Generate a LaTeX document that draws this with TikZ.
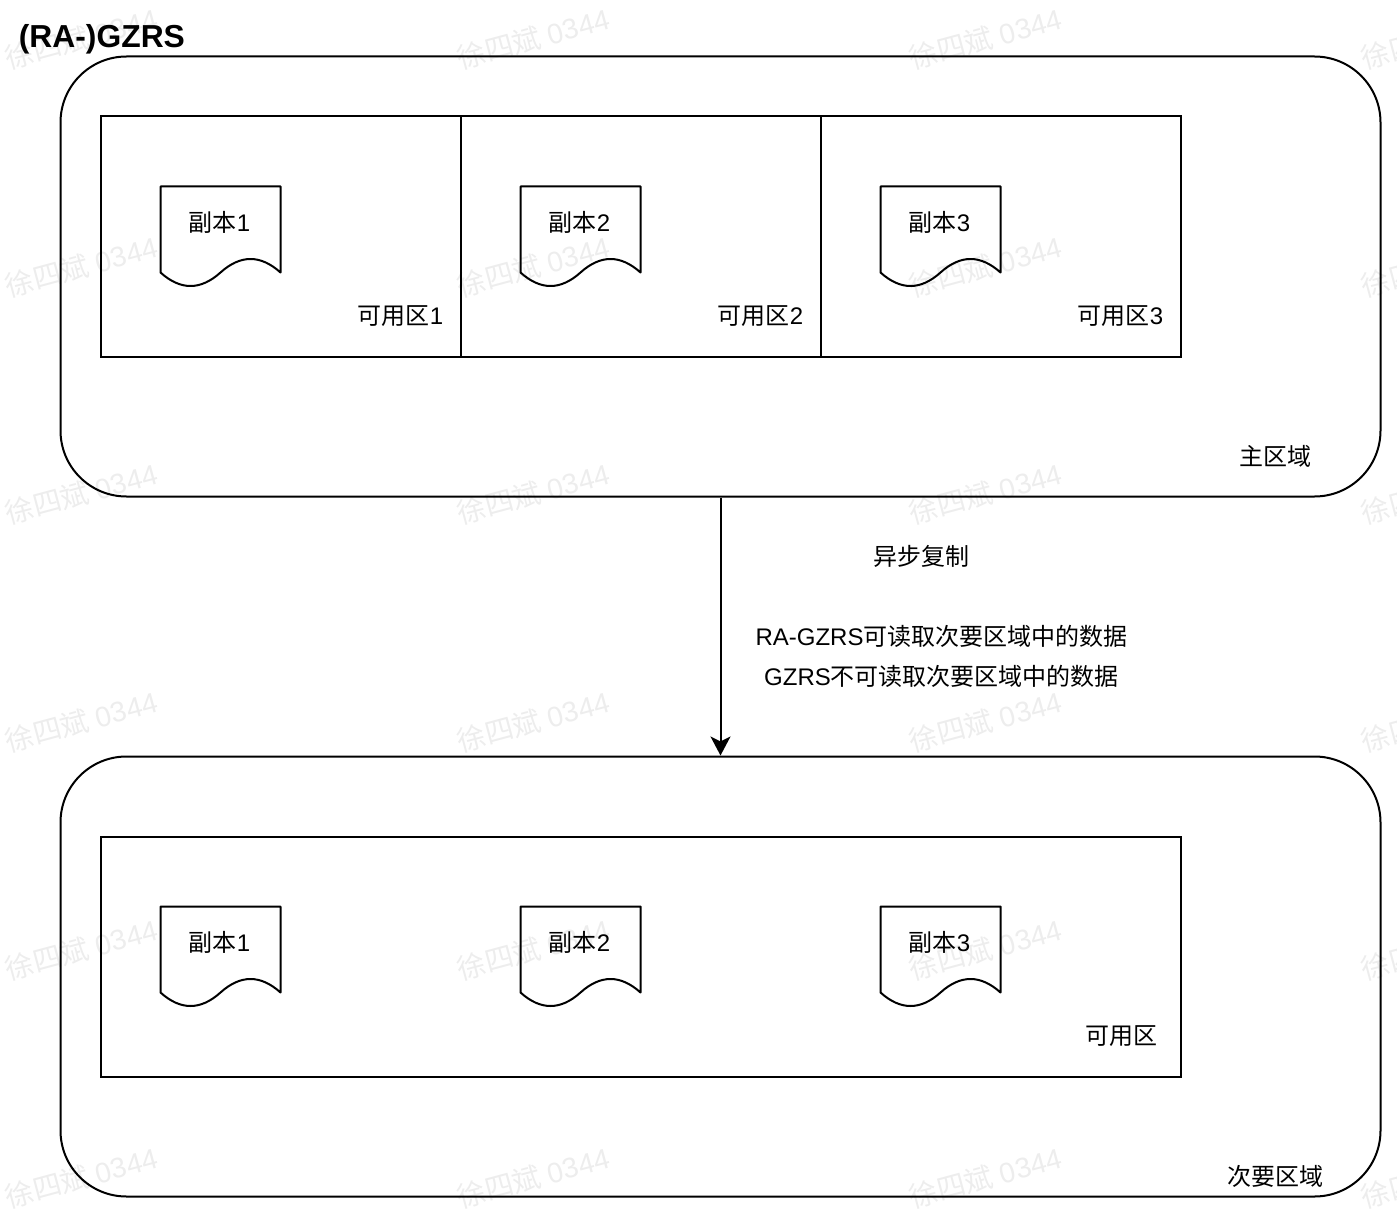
\documentclass[tikz,border=0pt]{standalone}
\usepackage{fontspec}
\setmainfont{Liberation Sans}
\newfontfamily\cjk{Noto Sans CJK SC}
\newcommand{\zh}[1]{{\cjk #1}}
\usetikzlibrary{arrows.meta}
\tikzset{
	region/.style={draw, line width=1pt, rounded corners=33pt, minimum width=660pt, minimum height=220pt, inner sep=0pt},
	zonebox/.style={draw, line width=1pt, minimum width=180pt, minimum height=120pt, inner sep=0pt},
	replica/.style={line width=1pt, line join=round},
	lbl/.style={font=\fontsize{12}{14}\selectfont, inner sep=0pt},
	watermark/.style={font=\fontsize{14.2}{16}\selectfont, text=black!7, rotate=15, inner sep=0pt}
}
\begin{document}
\begin{tikzpicture}[x=0.5pt,y=-0.5pt]
	\useasboundingbox (-0.5,-0.5) rectangle (1396.5,1213.5);

	\begin{scope}
	\clip (-0.5,-0.5) rectangle (1396.5,1213.5);
	\foreach \x in {81,533,985,1437}
		\foreach \y in {38,266,493,721,949,1177}
			\node[watermark] at (\x,\y) {\zh{徐四斌} 0344};
	\end{scope}

	\node[font=\bfseries\fontsize{15.9}{18}\selectfont, anchor=west, inner sep=0pt] (title) at (18,39) {(RA-)GZRS};

	\node[region] (primary) at (720,276) {};
	\node[region] (secondary) at (720,976) {};

	\node[zonebox] (zone1) at (280,236) {};
	\node[zonebox] (zone2) at (640,236) {};
	\node[zonebox] (zone3) at (1000,236) {};
	\node[zonebox, minimum width=540pt] (zone) at (640,956) {};

	% replicas in both regions
	\foreach \r/\y in {a/186,b/906}
		\foreach \i/\x in {1/160,2/520,3/880}{
			\begin{scope}[shift={(\x,\y)}]
			\draw[replica] (0,0) -- (120,0) -- (120,86) .. controls (100,68) and (80,68) .. (60,86) .. controls (40,104) and (20,104) .. (0,86) -- cycle;
			\node[lbl] (doc\r\i) at (59,36) {\zh{副本}\i};
			\end{scope}
		}

	\node[lbl] (zonelabel1) at (400,316) {\zh{可用区}1};
	\node[lbl] (zonelabel2) at (760,316) {\zh{可用区}2};
	\node[lbl] (zonelabel3) at (1120,316) {\zh{可用区}3};
	\node[lbl] (zonelabel) at (1121,1036) {\zh{可用区}};
	\node[lbl] (primarylabel) at (1275,456) {\zh{主区域}};
	\node[lbl] (secondarylabel) at (1275,1176) {\zh{次要区域}};

	\draw[line width=1pt, -{Stealth[length=9.5pt,width=10pt,inset=2.5pt]}] (primary.south) -- (secondary.north);

	\node[lbl] (async) at (921,556) {\zh{异步复制}};
	\node[lbl] (readra) at (941,636) {RA-GZRS\zh{可读取次要区域中的数据}};
	\node[lbl] (readgzrs) at (941,676) {GZRS\zh{不可读取次要区域中的数据}};
\end{tikzpicture}
\end{document}
